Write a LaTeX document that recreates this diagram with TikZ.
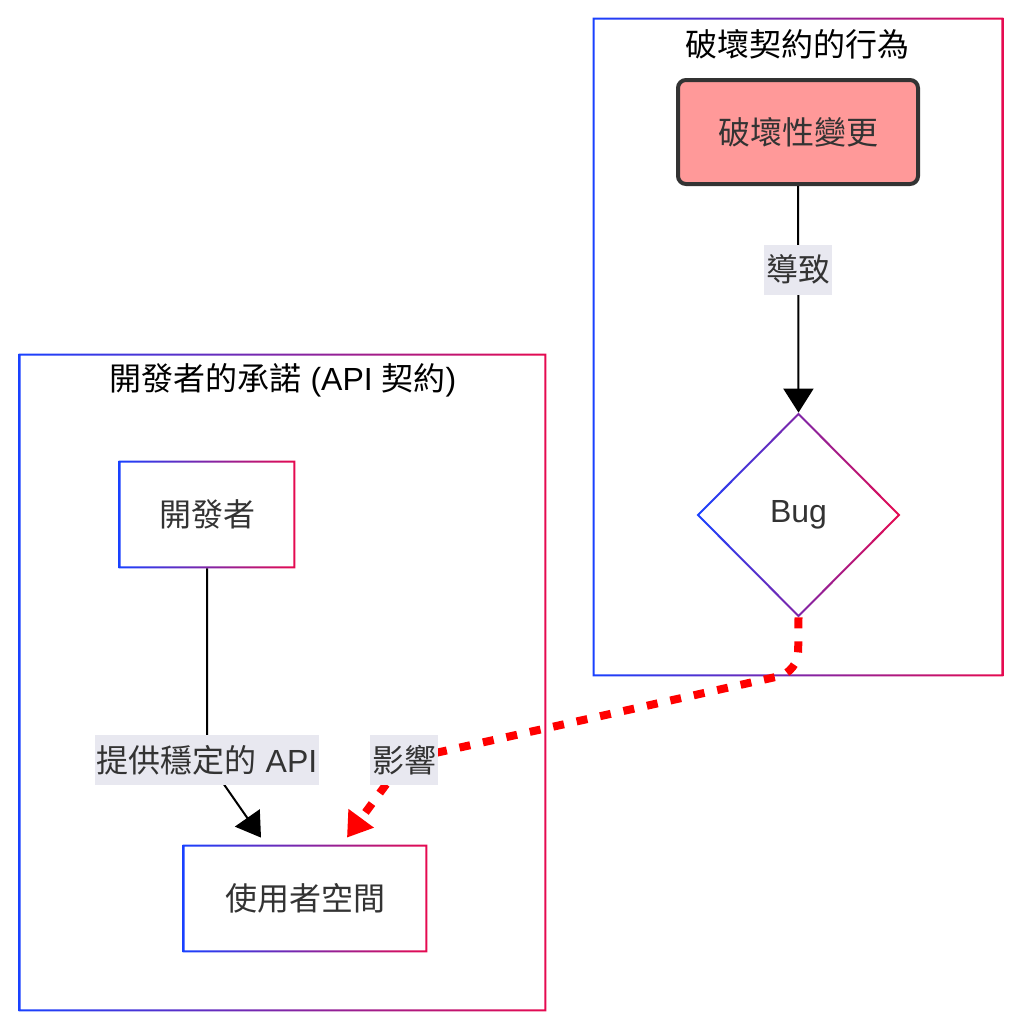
\documentclass[tikz,border=0pt]{standalone}
\usepackage{fontspec}
\setmainfont{Noto Sans CJK TC}
\newfontfamily\latf{Liberation Sans}
\usepackage{tikz}
\usetikzlibrary{calc,arrows.meta,shapes.geometric}
\definecolor{cblue}{RGB}{25,65,255}
\definecolor{cred}{RGB}{230,10,80}
\definecolor{ctext}{RGB}{51,51,51}
\definecolor{cpink}{RGB}{255,153,153}
\definecolor{cdark}{RGB}{51,51,51}
\definecolor{clbl}{RGB}{232,232,240}
\tikzset{%
  box/.style={shape=rectangle,inner sep=0,text=ctext,font=\fontsize{16}{19}\selectfont},
  frame/.style={shape=rectangle,inner sep=0},
  ttl/.style={text=black,font=\fontsize{16}{19}\selectfont},
  hot/.style={box,draw=cdark,line width=2pt,fill=cpink,rounded corners=4pt},
  dia/.style={shape=diamond,inner sep=0,text=ctext,font=\fontsize{16}{19}\selectfont},
  lbl/.style={fill=clbl,text=ctext,sharp corners,inner xsep=1pt,inner ysep=0,minimum height=25pt,font=\fontsize{16}{19}\selectfont},
  arr/.style={draw=black,line width=1pt,-{Triangle[length=12pt,width=15pt]}},
  hit/.style={draw=red,line width=4pt,dash pattern=on 5.5pt off 6.5pt,rounded corners=10pt,
    -{Triangle[length=12pt,width=15pt,fill=red]}}
}
\newcommand{\gframe}[1]{%
  \shade[left color=cblue,right color=cred,even odd rule]
    (#1.south west) rectangle (#1.north east)
    ([shift={(1pt,1pt)}]#1.south west) rectangle ([shift={(-1pt,-1pt)}]#1.north east);}
\begin{document}
\begin{tikzpicture}[x=0.5pt,y=-0.5pt]
    \useasboundingbox (0,0) rectangle (1024,1033);
    \path
      (798,347) node (brk)[frame,minimum width=205pt,minimum height=329pt]{}
      (282.5,682.5) node (api)[frame,minimum width=263.5pt,minimum height=328.5pt]{}
      (797,44) node (brkttl)[ttl]{破壞契約的行為}
      (283,380) node (apittl)[ttl]{開發者的承諾{\latf\ (API }契約{\latf )}}
      (798,132) node (chg)[hot,minimum width=120pt,minimum height=52pt]{破壞性變更}
      (798.5,515) node (bug)[dia,minimum width=101.5pt,minimum height=102pt]{\latf Bug}
      (207,514.5) node (dev)[box,minimum width=88pt,minimum height=53.5pt]{開發者}
      (305,898.5) node (user)[box,minimum width=122pt,minimum height=53.5pt]{使用者空間};
    \gframe{brk}
    \gframe{api}
    \gframe{dev}
    \gframe{user}
    \shade[left color=cblue,right color=cred,even odd rule]
      (bug.north) -- (bug.east) -- (bug.south) -- (bug.west) -- cycle
      ([yshift=-1.4pt]bug.north) -- ([xshift=-1.4pt]bug.east)
        -- ([yshift=1.4pt]bug.south) -- ([xshift=1.4pt]bug.west) -- cycle;
    \draw[arr] (chg) -- node[lbl,pos=0.37]{導致} (bug.north);
    \draw[arr] (dev.south) -- (207,760) node[lbl]{提供穩定的{\latf\ API}} -- ($(user.north)+(-44,-7)$);
    \draw[hit] (bug.south) -- (798,672) -- (404,760) node[lbl,draw=none]{影響} -- ($(user.north)+(42,-7)$);
  \end{tikzpicture}
\end{document}
